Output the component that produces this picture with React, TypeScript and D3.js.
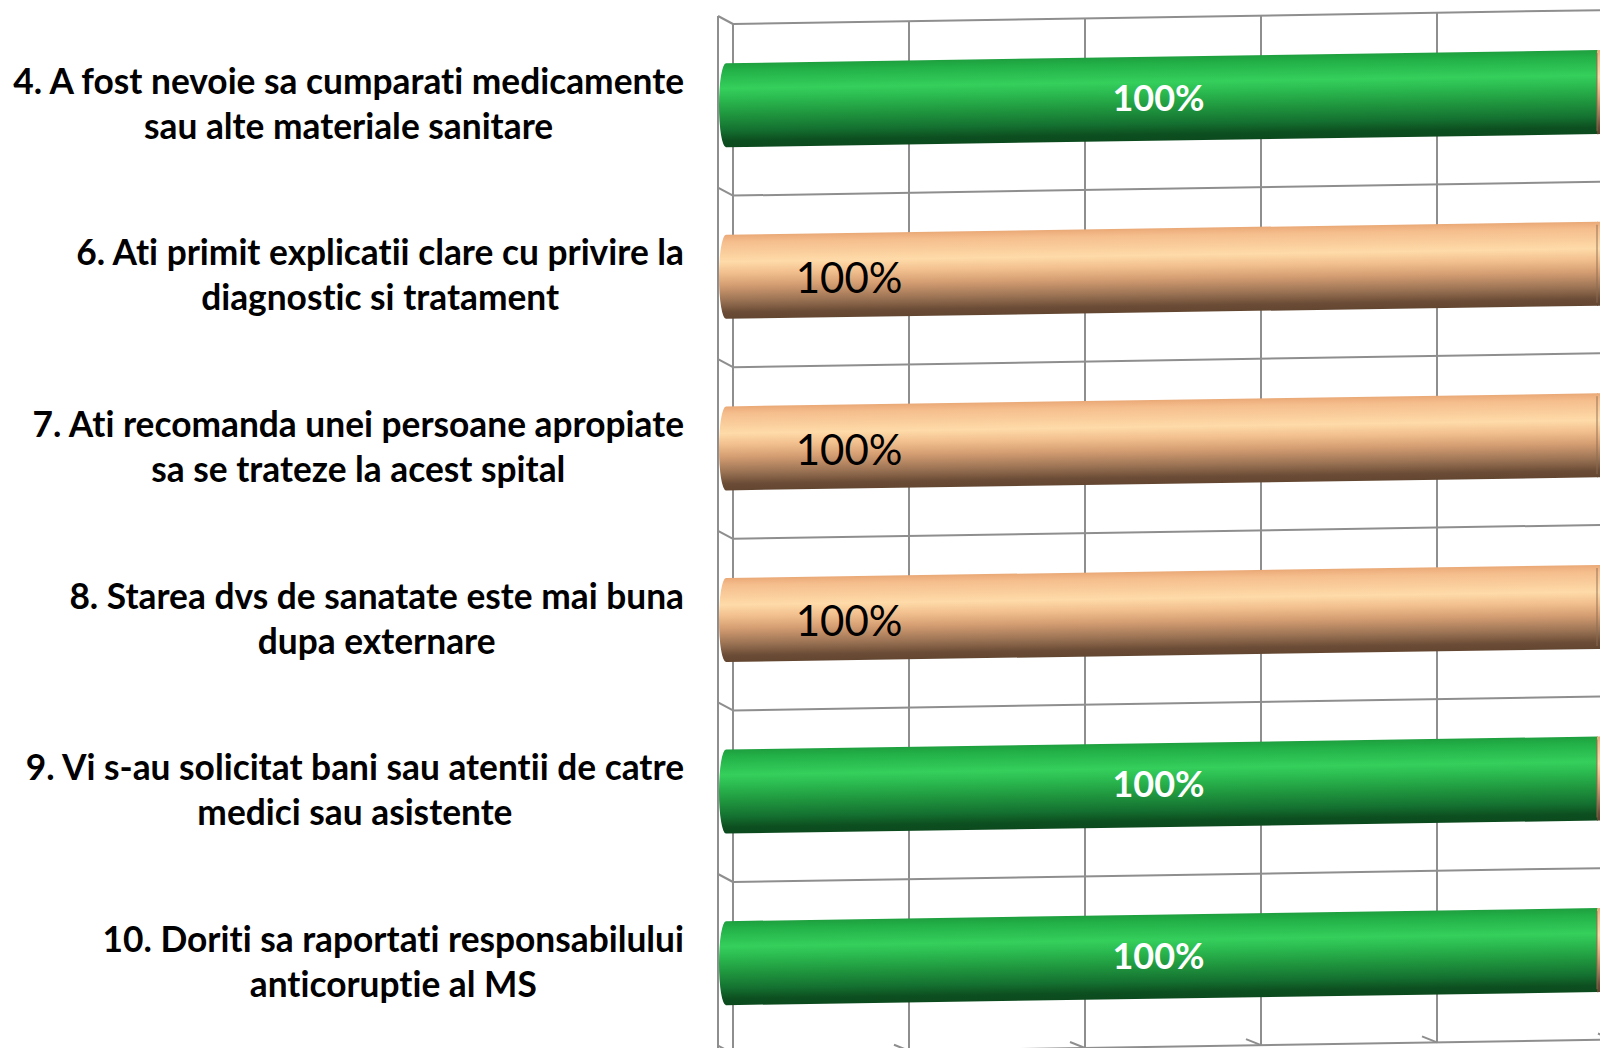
import React, { useEffect, useRef } from 'react';
import * as d3 from 'd3';

// survey questions, each split into the two lines shown on the axis
const questionLines: string[][] = [
  ['4. A fost nevoie sa cumparati medicamente', 'sau alte materiale sanitare'],
  ['6. Ati primit explicatii clare cu privire la', 'diagnostic si tratament'],
  ['7. Ati recomanda unei persoane apropiate', 'sa se trateze la acest spital'],
  ['8. Starea dvs de sanatate este mai buna', 'dupa externare'],
  ['9. Vi s-au solicitat bani sau atentii de catre', 'medici sau asistente'],
  ['10. Doriti sa raportati responsabilului', 'anticoruptie al MS'],
];
const answerKind = ['Nu', 'Da', 'Da', 'Da', 'Nu', 'Nu'];
const answerShare = [1, 1, 1, 1, 1, 1];
const axisTicks = [0, 0.2, 0.4, 0.6, 0.8, 1];

const W = 1600;
const H = 1048;

const App = () => {
  const svgRef = useRef<SVGSVGElement>(null);

  useEffect(() => {
    const svg = d3.select(svgRef.current);
    svg.selectAll('*').remove();

    const font = 'Lato, "Open Sans", sans-serif';
    const gridSlope = -0.016;
    const barSlope = -0.015;
    const wallLeft = 733;
    const sideLeft = 718;
    const ids = questionLines.map((_, i) => String(i));

    const gx = d3.scaleLinear().domain([0, 1]).range([wallLeft, 1613]);
    const bx = d3.scaleLinear().domain([0, 1]).range([719, 1598]);
    const cy = d3.scaleBand<string>().domain(ids).range([24, 1053.6]);
    const lineY = (y0: number, x: number) => y0 + gridSlope * (x - wallLeft);

    const defs = svg.append('defs');
    const grad = (id: string, stops: [number, string][]) => {
      const g = defs.append('linearGradient').attr('id', id)
        .attr('x1', 0).attr('y1', 0).attr('x2', 0).attr('y2', 1);
      stops.forEach(([o, c]) => g.append('stop').attr('offset', o).attr('stop-color', c));
    };
    grad('gNu', [[0, '#1e9f3f'], [0.08, '#22b047'], [0.3, '#35cf5c'], [0.42, '#2bbb50'],
      [0.6, '#20983f'], [0.8, '#147030'], [0.92, '#0d4f20'], [1, '#0b4a1d']]);
    grad('gDa', [[0, '#eaa977'], [0.08, '#f5bd8c'], [0.32, '#fedba9'], [0.45, '#f2c08e'],
      [0.6, '#d49d72'], [0.78, '#9b7354'], [0.92, '#6b4c36'], [1, '#634631']]);

    // grid walls
    const grid = svg.append('g').attr('stroke', '#8e8e8e').attr('stroke-width', 2).attr('fill', 'none');
    const bounds = [...ids.map(id => cy(id) as number), cy.range()[1]];
    bounds.forEach(y0 => {
      grid.append('line').attr('x1', wallLeft).attr('y1', y0).attr('x2', W).attr('y2', lineY(y0, W));
      grid.append('line').attr('x1', sideLeft).attr('y1', y0 - 8).attr('x2', wallLeft).attr('y2', y0);
    });
    grid.append('line').attr('x1', sideLeft).attr('y1', 16).attr('x2', sideLeft).attr('y2', H);
    const floor = cy.range()[1];
    axisTicks.forEach(t => {
      const x = gx(t);
      grid.append('line').attr('x1', x).attr('y1', lineY(24, x)).attr('x2', x).attr('y2', lineY(floor, x));
      if (t > 0) {
        grid.append('line').attr('x1', x - 15).attr('y1', lineY(floor, x) - 6)
          .attr('x2', x).attr('y2', lineY(floor, x));
      }
    });

    // cylinder bars
    const half = 42;
    const rx = 7;
    const skew = (Math.atan(barSlope) * 180) / Math.PI;
    ids.forEach((id, i) => {
      const y0 = (cy(id) as number) + cy.bandwidth() / 2 - 4.5;
      const w = bx(answerShare[i]) - bx(0);
      const g = svg.append('g').attr('transform', `translate(${bx(0)},${y0}) skewY(${skew})`);
      g.append('path')
        .attr('d', `M${rx},${-half} A${rx},${half} 0 0 0 ${rx},${half} L${w},${half} L${w},${-half} Z`)
        .attr('fill', `url(#g${answerKind[i]})`);
      g.append('rect').attr('x', w - 1).attr('y', -half).attr('width', 12).attr('height', half * 2)
        .attr('fill', 'url(#gDa)');
      g.append('line').attr('x1', w - 1).attr('y1', -half + 3).attr('x2', w - 1).attr('y2', half - 3)
        .attr('stroke', '#8a6a50').attr('stroke-opacity', 0.6).attr('stroke-width', 1.5);

      const green = answerKind[i] === 'Nu';
      const lx = green ? bx(answerShare[i] / 2) : bx(answerShare[i] * 0.148);
      const centerAt = y0 + barSlope * (lx - bx(0));
      svg.append('text')
        .attr('x', lx).attr('y', centerAt + (green ? 12 : 18))
        .attr('text-anchor', 'middle')
        .attr('font-family', font)
        .attr('font-weight', green ? 700 : 400)
        .attr('font-size', green ? 36 : 42)
        .attr('fill', green ? '#ffffff' : '#000000')
        .text(d3.format('.0%')(answerShare[i]));
    });

    // category labels: fit font so the longest first line matches the picture
    const probe = svg.append('text').attr('font-family', font).attr('font-weight', 700)
      .style('font-variant-ligatures', 'none')
      .attr('font-size', 32).text(questionLines[0][0]);
    const probeW = (probe.node() as SVGTextElement).getComputedTextLength();
    probe.remove();
    const labelSize = 32 * 671 / probeW;
    const labelRight = 684;

    ids.forEach((id, i) => {
      const c = (cy(id) as number) + cy.bandwidth() / 2;
      const t = svg.append('text').attr('font-family', font).attr('font-weight', 700)
        .style('font-variant-ligatures', 'none')
        .attr('font-size', labelSize).attr('fill', '#000').attr('text-anchor', 'middle');
      const spans = questionLines[i].map((s, k) =>
        t.append('tspan').attr('y', k === 0 ? c - 16 : c + 29).text(s));
      const maxW = d3.max(spans, s => (s.node() as SVGTSpanElement).getComputedTextLength()) || 0;
      spans.forEach(s => s.attr('x', labelRight - maxW / 2));
    });
  }, []);

  return (
    <svg ref={svgRef} width={W} height={H}
      style={{ position: 'absolute', left: 0, top: 0, background: '#fff', display: 'block' }} />
  );
};

export default App;
